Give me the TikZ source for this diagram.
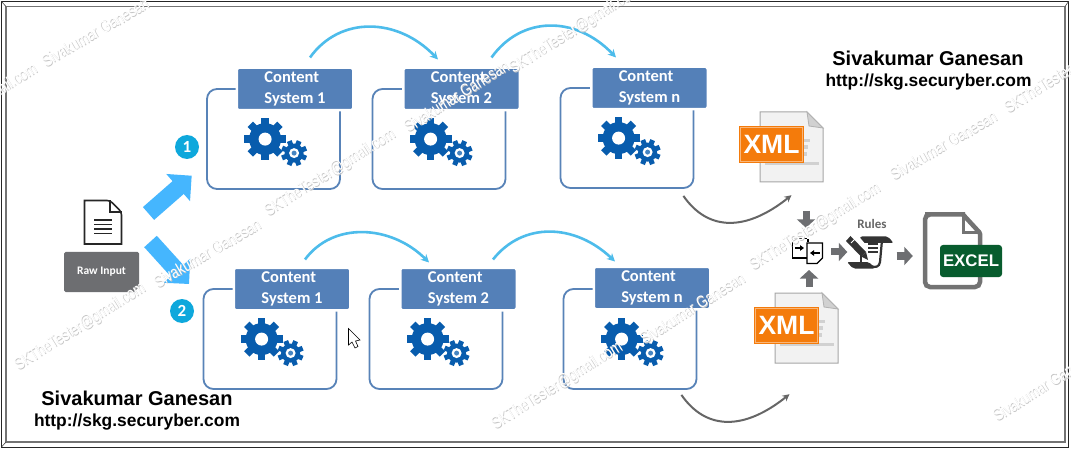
\documentclass[tikz,border=0pt]{standalone}
\usepackage{fontspec}
\usepackage{xcolor}
\usetikzlibrary{arrows.meta}
\setmainfont{Liberation Sans}
\newfontfamily\hdfont{Carlito}
\newfontfamily\wmfont{Liberation Sans}[FakeStretch=0.78]
\definecolor{hdblue}{RGB}{84,128,184}
\definecolor{lineblue}{RGB}{88,131,184}
\definecolor{gearblue}{RGB}{8,92,173}
\definecolor{arcblue}{RGB}{77,188,235}
\definecolor{bigblue}{RGB}{69,182,254}
\definecolor{badgeblue}{RGB}{14,168,220}
\definecolor{stubgray}{RGB}{109,110,113}
\definecolor{xmlorange}{RGB}{244,123,11}
\definecolor{xlgreen}{RGB}{8,92,46}
\tikzset{
    sysbox/.style={draw=lineblue, line width=1.8pt, rounded corners=10pt, minimum width=133pt, minimum height=100pt, inner sep=0pt},
    syshead/.style={draw=white, fill=hdblue, line width=2.5pt, rounded corners=2.5pt, minimum width=116.5pt, minimum height=42.5pt, inner sep=0pt,
        align=left, text=white, font=\hdfont\bfseries\fontsize{16.5}{21.5}\selectfont},
    badge/.style={circle, fill=badgeblue, minimum size=24pt, inner sep=0pt, text=white, font=\hdfont\bfseries\fontsize{17}{17}\selectfont},
    arcline/.style={draw=arcblue, line width=2.6pt, -{Stealth[length=8pt,width=8pt]}},
    grayline/.style={draw=black!60, line width=2pt, -{Stealth[length=7pt,width=7pt]}},
    bigarrow/.style={draw=bigblue, line width=17pt, -{Triangle[length=18pt,width=35pt]}},
    stub/.style={draw=stubgray, line width=7pt, -{Triangle[length=8.5pt,width=18pt]}},
    sigline/.style={font=\bfseries\fontsize{20}{20}\selectfont, inner sep=0pt},
    urlline/.style={font=\bfseries\fontsize{17.4}{17.4}\selectfont, inner sep=0pt},
    wmshade/.style={text=black!22, font=\wmfont\fontsize{17}{17}\selectfont, inner sep=0pt},
    wmfront/.style={text=white, font=\wmfont\fontsize{17}{17}\selectfont, inner sep=0pt},
    pics/gears/.style={code={
        \foreach \a in {0,45,90,135} {
            \fill[gearblue, rotate around={\a:(59,51)}] (55.2,30) rectangle (62.8,72);
            \fill[gearblue, rotate around={\a+22:(88,65)}] (85.5,52) rectangle (90.5,78);
        }
        \fill[gearblue] (59,51) circle (16);
        \fill[white] (59,51) circle (6.5);
        \fill[gearblue] (88,65) circle (9.5);
        \fill[white] (88,65) circle (5);
        \fill[gearblue!75] (88,65) circle (2.5);
    }},
    pics/xmldoc/.style={code={
        \node[minimum width=63pt, minimum height=70pt, inner sep=0pt] (-page) at (31.5,35) {};
        \draw[fill=black!5, draw=black!35, line width=1pt] (0,0) -- (47,0) -- (63,16) -- (63,70) -- (0,70) -- cycle;
        \draw[fill=black!18, draw=black!30, line width=.8pt] (47,0) -- (49,14) -- (63,16) -- cycle;
        \fill[black!18] (44,27) rectangle (50,30);
        \fill[black!18] (44,33) rectangle (48,37);
        \fill[black!18] (44,40) rectangle (47,44);
        \fill[black!18] (5,50) rectangle (59,53);
        \node[fill=xmlorange, minimum width=65pt, minimum height=37pt, inner sep=0pt, text=white, font=\bfseries\fontsize{26.5}{26.5}\selectfont] (-label) at (11.5,32.5) {XML};
        \draw[xmlorange!55!white, line width=.6pt] (-19.5,15.5) rectangle (42.5,49.5);
    }}
}
\newcommand{\wmark}[5]{%
    \node[wmshade, rotate=#4] (wm#1b) at (#2+.8,#3+.8) {#5};
    \node[wmfront, rotate=#4] (wm#1) at (#2,#3) {#5};
}
\begin{document}
\begin{tikzpicture}[x=1pt, y=-1pt]
    \useasboundingbox (0,0) rectangle (1071,449);
    \fill[white] (0,0) rectangle (1071,449);

    % Frame
    \draw[black!85, line width=1pt] (1.5,1.5) rectangle (1068.5,447);
    \draw[black!55, line width=1.4pt] (6,6.5) rectangle (1065,442);
    \draw[black!70, line width=.6pt] (1.5,1.5) -- (6,6.5);
    \draw[black!70, line width=.6pt] (1068.5,1.5) -- (1065,6.5);
    \draw[black!70, line width=.6pt] (1.5,447) -- (6,442);

    % Boxes, upper row
    \node[sysbox] (boxAa) at (273.5,139) {};
    \node[sysbox] (boxAb) at (439,139) {};
    \node[sysbox] (boxAc) at (627,138) {};
    \node[syshead] (hdAa) at (295,89) {Content\\System 1};
    \node[syshead] (hdAb) at (461.5,89) {Content\\System 2};
    \node[syshead] (hdAc) at (649.5,88) {Content\\System n};
    \pic at (boxAa.north west) {gears};
    \pic at (boxAb.north west) {gears};
    \pic at (boxAc.north west) {gears};

    % Boxes, lower row
    \node[sysbox] (boxBa) at (270,339) {};
    \node[sysbox] (boxBb) at (436,339) {};
    \node[sysbox] (boxBc) at (630,339) {};
    \node[syshead] (hdBa) at (292,289) {Content\\System 1};
    \node[syshead] (hdBb) at (458.5,289) {Content\\System 2};
    \node[syshead] (hdBc) at (652,288) {Content\\System n};
    \pic at (boxBa.north west) {gears};
    \pic at (boxBb.north west) {gears};
    \pic at (boxBc.north west) {gears};

    % Arcs between the boxes
    \draw[arcline] ([shift={(15,-9)}]hdAa.north) .. controls +(30,-42) and +(-40,-42) .. ([shift={(-23.5,-7)}]hdAb.north);
    \draw[arcline] ([shift={(30,-9)}]hdAb.north) .. controls +(30,-42) and +(-40,-42) .. ([shift={(-33.5,-8)}]hdAc.north);
    \draw[arcline] ([shift={(13,-7)}]hdBa.north) .. controls +(28,-38) and +(-38,-38) .. ([shift={(-29.5,-4)}]hdBb.north);
    \draw[arcline] ([shift={(34.5,-7)}]hdBb.north) .. controls +(30,-38) and +(-40,-38) .. ([shift={(-37,-4)}]hdBc.north);

    % Raw input
    \node[minimum width=38pt, minimum height=44pt, inner sep=0pt] (rawdoc) at (103,222) {};
    \draw[black!85, line width=1.6pt, rounded corners=3pt, fill=white] (84.5,200.5) -- (110,200.5) -- (121.5,212) [sharp corners] -- (121.5,244) -- (84.5,244) -- cycle;
    \draw[black!85, line width=1.2pt] (110,200.5) -- (110,212) -- (121.5,212);
    \foreach \ly in {220,224.5,229,233.5} {
        \draw[black!85, line width=1.6pt] (94,\ly) -- (112,\ly);
    }
    \node[fill=stubgray, rounded corners=1.5pt, minimum width=75pt, minimum height=40pt, inner sep=0pt, text=white, font=\hdfont\bfseries\fontsize{11.5}{11.5}\selectfont] (rawbox) at (101.5,272) {Raw Input};
    \fill[white] (139.2,287) -- (139.2,292.2) -- (134,292.2) -- cycle;

    % Big arrows and badges
    \coordinate (upfrom) at (148.5,213.5);
    \coordinate (uptip) at (191.7,175.7);
    \coordinate (downfrom) at (150.5,241.5);
    \coordinate (downtip) at (189,284);
    \draw[bigarrow] (upfrom) -- (uptip);
    \draw[bigarrow] (downfrom) -- (downtip);
    \node[badge] (badgeA) at (187,147) {1};
    \node[badge] (badgeB) at (182,311) {2};

    % XML files
    \pic (xmlA) at (760,112) {xmldoc};
    \pic (xmlB) at (775,293) {xmldoc};
    \draw[grayline] ([shift={(-11,7)}]boxAc.south east) .. controls +(25,36) and +(-45,36) .. ([shift={(0,13)}]xmlA-page.south);
    \draw[grayline] ([shift={(-16,5)}]boxBc.south east) .. controls +(25,36) and +(-45,36) .. ([shift={(-17,31)}]xmlB-page.south);

    % Merge icon
    \node[minimum width=31pt, minimum height=26pt, inner sep=0pt] (merge) at (807.5,251) {};
    \draw[black, line width=1.1pt] (808,243) -- (808,258) -- (792.5,258) -- (792.5,242);
    \draw[black, line width=1.1pt, densely dashed] (792.5,242) -- (792.5,238.5) -- (808,238.5) -- (808,243);
    \draw[black, line width=1.1pt, fill=white] (807,243) -- (822.5,243) -- (822.5,258) -- (817,263.5) -- (807,263.5) -- cycle;
    \draw[black, line width=1.4pt, -{Triangle[length=4pt,width=5.5pt]}] (795,248) -- (804,248);
    \draw[black, line width=1.4pt, -{Triangle[length=4pt,width=5.5pt]}] (819.5,253) -- (810,253);

    % Rules icon
    \node[minimum width=47pt, minimum height=33pt, inner sep=0pt] (rules) at (870,252.5) {};
    \node[inner sep=0pt, text=black!60, font=\hdfont\bfseries\fontsize{13}{13}\selectfont] (ruleslabel) at (872,224) {Rules};
    \fill[black!80, rounded corners=2pt] (860,236.5) -- (888,236.5) -- (893.5,243) -- (881,243) -- (860,243) -- cycle;
    \draw[black!80, line width=1.6pt] (861,242) -- (861,262);
    \draw[black!80, line width=2.2pt] (882,240) -- (880,262) .. controls (879.5,267) and (875,268) .. (871,266);
    \fill[black!80, rounded corners=2pt] (847,262) -- (869,262) -- (875,268.5) -- (853,268.5) -- cycle;
    \fill[white] (856,233) -- (872,252) -- (866,258) -- (846,239) -- cycle;
    \fill[black!80] (850.5,236) -- (866,252) -- (861,256.5) -- (846,241) -- cycle;
    \fill[black!80] (866,252) -- (868,260) -- (861,256.5) -- cycle;
    \draw[white, line width=1pt] (851,243) -- (855.5,238.5);
    \foreach \ly in {244,248,252} {
        \draw[black!80, line width=1.1pt] (868,\ly) -- (878,\ly);
    }

    % Excel file
    \node[minimum width=59pt, minimum height=77pt, inner sep=0pt] (xlpage) at (952.5,250.5) {};
    \draw[black!55, line width=4.5pt, rounded corners=5pt] (965,214.5) -- (930,214.5) -- (925,214.5) -- (925,287) -- (980,287) -- (980,270);
    \draw[black!55, line width=4.5pt, rounded corners=1pt] (963,214.5) -- (980,233) -- (980,247);
    \draw[black!55, line width=3pt] (963,214.5) -- (963,233) -- (980,233);
    \node[fill=xlgreen, rounded corners=3pt, minimum width=62pt, minimum height=32pt, inner sep=0pt, text=white, font=\bfseries\fontsize{16.8}{16.8}\selectfont] (xllabel) at (971,261) {EXCEL};

    % Small gray arrows
    \coordinate (stubdown) at (806,211);
    \coordinate (stubup) at (809,287);
    \draw[stub, shorten >=10pt] (stubdown) -- (stubdown |- merge.north);
    \draw[stub, shorten >=0pt] (stubup) -- (809,270);
    \draw[stub, shorten <=8pt, shorten >=-1pt] (merge.east |- 0,252) -- (rules.west |- 0,252);
    \draw[stub, shorten <=3pt, shorten >=10pt] (rules.east |- 0,256) -- (xlpage.west |- 0,256);

    % Signature texts
    \node[sigline] (sigA) at (928,58) {Sivakumar Ganesan};
    \node[urlline] (urlA) at (928.5,82) {http://skg.securyber.com};
    \node[sigline] (sigB) at (137,398) {Sivakumar Ganesan};
    \node[urlline] (urlB) at (137,422) {http://skg.securyber.com};

    % Mouse pointer
    \draw[fill=white, draw=black, line width=.6pt, line join=miter] (348.5,328.5) -- (348.5,345) -- (352,342) -- (355,348) -- (358,346.5) -- (355.5,341) -- (360,340) -- cycle;

    % Watermarks
    \wmark{a}{95}{32}{30}{Sivakumar Ganesan}
    \wmark{b}{456}{96}{32}{Sivakumar Ganesan}
    \wmark{c}{943}{145}{30}{Sivakumar Ganesan}
    \wmark{d}{207}{253}{30}{Sivakumar Ganesan}
    \wmark{e}{692}{308}{32}{Sivakumar Ganesan}
    \wmark{f}{1045}{385}{32}{Sivakumar Ganesan}
    \wmark{g}{575}{30}{32}{SKTheTester@gmail.com}
    \wmark{h}{330}{173}{32}{SKTheTester@gmail.com}
    \wmark{i}{815}{227}{32}{SKTheTester@gmail.com}
    \wmark{j}{80}{327}{32}{SKTheTester@gmail.com}
    \wmark{k}{557}{386}{32}{SKTheTester@gmail.com}
    \wmark{l}{1070}{70}{32}{SKTheTester@gmail.com}
    \wmark{m}{-28}{108}{32}{SKTheTester@gmail.com}
\end{tikzpicture}
\end{document}
